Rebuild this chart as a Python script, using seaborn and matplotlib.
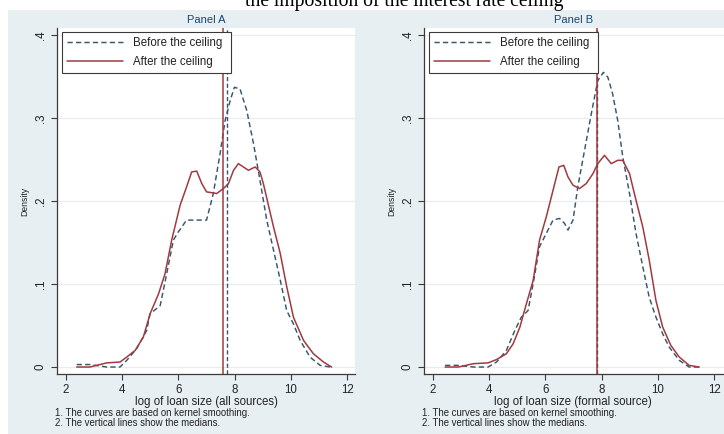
import numpy as np
import pandas as pd
import seaborn as sns
import matplotlib.pyplot as plt
from matplotlib.patches import Rectangle

# -----------------------------
# Data
# -----------------------------
a_before_x = [2.38, 2.85, 3.45, 3.92, 4.16, 4.51, 4.87, 4.99, 5.35, 5.58, 5.82, 6.0, 6.29, 7.0,
              7.24, 7.48, 7.66, 7.84, 7.99, 8.19, 8.43, 8.67, 8.9, 9.14, 9.38, 9.62, 9.85,
              10.09, 10.33, 10.68, 11.04, 11.4]
a_before_y = [0.003, 0.003, 0.0, 0.0, 0.008, 0.022, 0.044, 0.064, 0.074, 0.112, 0.153, 0.163,
              0.177, 0.177, 0.209, 0.257, 0.297, 0.321, 0.337, 0.335, 0.309, 0.269, 0.225,
              0.177, 0.141, 0.105, 0.068, 0.052, 0.032, 0.012, 0.002, 0.0]
a_after_x = [2.38, 2.85, 3.45, 3.92, 4.16, 4.46, 4.75, 4.99, 5.29, 5.52, 5.76, 6.06, 6.29, 6.47,
             6.65, 6.83, 7.0, 7.36, 7.6, 7.78, 7.96, 8.13, 8.49, 8.73, 8.9, 9.02, 9.38, 9.62,
             9.85, 10.09, 10.45, 10.8, 11.16, 11.45]
a_after_y = [0.0, 0.0, 0.005, 0.006, 0.012, 0.02, 0.036, 0.064, 0.088, 0.112, 0.153, 0.195,
             0.217, 0.235, 0.236, 0.221, 0.211, 0.209, 0.215, 0.221, 0.237, 0.245, 0.237,
             0.241, 0.235, 0.221, 0.169, 0.137, 0.097, 0.06, 0.032, 0.016, 0.006, 0.0]

b_before_x = [2.43, 2.9, 3.43, 3.96, 4.26, 4.61, 4.91, 5.14, 5.38, 5.56, 5.79, 6.03, 6.27, 6.5,
              6.68, 6.8, 6.98, 7.15, 7.39, 7.63, 7.86, 8.06, 8.22, 8.39, 8.57, 8.75, 8.99,
              9.22, 9.46, 9.69, 9.93, 10.17, 10.4, 10.76, 11.11, 11.47]
b_before_y = [0.002, 0.002, 0.0, 0.0, 0.006, 0.02, 0.044, 0.06, 0.068, 0.1, 0.145, 0.161,
              0.177, 0.179, 0.173, 0.165, 0.177, 0.217, 0.261, 0.305, 0.345, 0.355, 0.349,
              0.329, 0.297, 0.253, 0.209, 0.161, 0.121, 0.084, 0.06, 0.04, 0.024, 0.008,
              0.0, 0.0]
b_after_x = [2.43, 2.9, 3.43, 3.96, 4.26, 4.61, 4.85, 5.09, 5.32, 5.56, 5.79, 6.03, 6.27, 6.48,
             6.65, 6.8, 6.98, 7.21, 7.45, 7.69, 7.86, 8.1, 8.34, 8.57, 8.75, 8.99, 9.22,
             9.46, 9.69, 9.93, 10.17, 10.46, 10.76, 11.11, 11.47]
b_after_y = [0.0, 0.0, 0.004, 0.005, 0.009, 0.016, 0.028, 0.048, 0.076, 0.104, 0.153, 0.181,
             0.213, 0.241, 0.243, 0.229, 0.219, 0.215, 0.221, 0.233, 0.245, 0.255, 0.245,
             0.249, 0.249, 0.233, 0.201, 0.169, 0.129, 0.08, 0.048, 0.026, 0.012, 0.002, 0.0]

medians_a = {"before": 7.72, "after": 7.60}
medians_b = {"before": 7.84, "after": 7.84}

series_labels = ["Before the ceiling", "After the ceiling"]
panel_titles = ["Panel A", "Panel B"]
x_labels = ["log of loan size (all sources)", "log of loan size (formal source)"]
notes = ["1. The curves are based on kernel smoothing.",
         "2. The vertical lines show the medians."]
x_ticks = [2, 4, 6, 8, 10, 12]
y_ticks = [0, 0.1, 0.2, 0.3, 0.4]
y_tick_labels = ["0", ".1", ".2", ".3", ".4"]
title = "the imposition of the interest rate ceiling"

# -----------------------------
# Style
# -----------------------------
sns.set_theme(style="white")
plt.rcParams["font.family"] = ["Liberation Sans", "DejaVu Sans"]

BG = "#e8eff2"
BLUE = "#37566d"
RED = "#a03a40"
AXC = "#3a3a3a"

fig = plt.figure(figsize=(7.24, 4.34), dpi=100, facecolor="white")
fig.patches.append(Rectangle((8 / 724, 0), 1, 1 - 10 / 434, transform=fig.transFigure,
                             facecolor=BG, edgecolor="none", zorder=-10))
# the reference crops this heading at the top edge
fig.text(404 / 724, 1 - 6 / 434, title, family="Liberation Serif", fontsize=14.1,
         ha="center", va="baseline", color="black")

ax_h = 346 / 434
ax_b = (434 - 374) / 434
# panel B runs off the right edge in the reference
axes = [fig.add_axes([57 / 724, ax_b, 298 / 724, ax_h]),
        fig.add_axes([424 / 724, ax_b, 300 / 724, ax_h])]
x_limits = [(1.68, 12.28), (1.68, 12.35)]

panels = [
    (a_before_x, a_before_y, a_after_x, a_after_y, medians_a),
    (b_before_x, b_before_y, b_after_x, b_after_y, medians_b),
]

for i, (ax, (bx, by, axx, ayy, med)) in enumerate(zip(axes, panels)):
    ax.set_facecolor("white")
    df_before = pd.DataFrame({"x": bx, "y": by})
    df_after = pd.DataFrame({"x": axx, "y": ayy})

    sns.lineplot(data=df_before, x="x", y="y", ax=ax, estimator=None, sort=False,
                 color=BLUE, lw=1.05, linestyle=(0, (3.6, 2.2)), label=series_labels[0])
    sns.lineplot(data=df_after, x="x", y="y", ax=ax, estimator=None, sort=False,
                 color=RED, lw=1.1, label=series_labels[1])

    ax.axvline(med["before"], color=BLUE, lw=1.0, linestyle=(0, (3.0, 1.8)), zorder=2)
    ax.axvline(med["after"], color=RED, lw=1.1, zorder=3)

    ax.set_xlim(*x_limits[i])
    ax.set_ylim(-0.0084, 0.4084)
    ax.set_xticks(x_ticks)
    ax.set_xticklabels([str(t) for t in x_ticks])
    ax.set_yticks(y_ticks)
    ax.set_yticklabels(y_tick_labels, rotation=90, va="center")
    ax.tick_params(axis="both", direction="out", length=4.5, width=0.8, color=AXC,
                   labelsize=8.3, labelcolor="#222222", pad=3)
    ax.tick_params(axis="x", bottom=True)
    ax.tick_params(axis="y", left=True)
    ax.yaxis.grid(True, color="#e6ecef", lw=0.8)
    ax.xaxis.grid(False)
    ax.set_axisbelow(True)

    for side in ["top", "right"]:
        ax.spines[side].set_visible(False)
    for side in ["left", "bottom"]:
        ax.spines[side].set_color(AXC)
        ax.spines[side].set_linewidth(0.9)

    # texts placed in pixel-matched axes fractions (panel A width is 298 px)
    fx = 298 / ax.get_position().width / 724
    ax.set_xlabel("")
    ax.set_ylabel("")
    ax.text(-0.107 * fx, 0.5, "Density", transform=ax.transAxes, rotation=90,
            ha="center", va="center", fontsize=6.2, color="#222222")
    ax.text(0.5 * fx, -0.081, x_labels[i], transform=ax.transAxes, ha="center", va="center",
            fontsize=8.3, color="#222222")
    ax.text(-0.007 * fx, -0.113, notes[0], transform=ax.transAxes, ha="left", va="center",
            fontsize=6.9, color="#222222")
    ax.text(-0.007 * fx, -0.142, notes[1], transform=ax.transAxes, ha="left", va="center",
            fontsize=6.9, color="#222222")
    ax.text(0.5, 1.023, panel_titles[i], transform=ax.transAxes, ha="center", va="center",
            fontsize=8, color="#1a476f")

    leg = ax.legend(loc="upper left", bbox_to_anchor=(0.017 * fx, 0.873, 0.567 * fx, 0.115),
                    mode="expand", borderaxespad=0, fontsize=8.3, frameon=True,
                    fancybox=False, edgecolor=AXC, framealpha=1, borderpad=0.45,
                    labelspacing=0.55, handlelength=4.8, handletextpad=0.9)
    leg.get_frame().set_linewidth(0.8)
    for t in leg.get_texts():
        t.set_color("#222222")

fig.savefig("out.png", dpi=100, facecolor=fig.get_facecolor())
